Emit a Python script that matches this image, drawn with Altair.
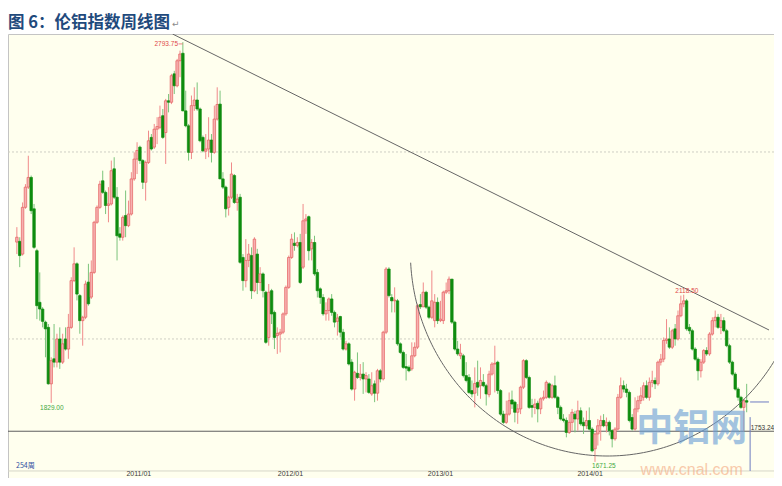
import numpy as np
import pandas as pd
import altair as alt

# ---------------- weekly OHLC of the LME aluminium index ----------------
opens = [
    2259, 2261, 2227, 2352, 2406, 2432, 2348, 2236, 2098, 2080,
    2045, 2031, 1880, 1947, 1938, 2000, 1938, 2000, 1973, 2031,
    2156, 2201, 2116, 2049, 2058, 2152, 2112, 2178, 2312, 2352,
    2423, 2392, 2357, 2361, 2455, 2379, 2281, 2272, 2330, 2303,
    2334, 2428, 2481, 2513, 2477, 2419, 2472, 2539, 2513, 2561,
    2566, 2597, 2552, 2637, 2633, 2709, 2677, 2744, 2764, 2610,
    2570, 2499, 2624, 2639, 2615, 2539, 2502, 2508, 2532, 2499,
    2588, 2628, 2428, 2406, 2352, 2379, 2437, 2365, 2379, 2218,
    2156, 2210, 2223, 2129, 2227, 2151, 2174, 2125, 2004, 2129,
    2071, 2009, 2013, 2018, 2067, 2138, 2218, 2256, 2250, 2258,
    2192, 2316, 2327, 2241, 2258, 2178, 2134, 2111, 2067, 2076,
    2107, 2071, 2047, 2060, 2018, 1973, 1987, 1938, 1866, 1908,
    1897, 1906, 1893, 1893, 1853, 1880, 1855, 1915, 1893, 2018,
    2187, 2111, 2102, 2102, 1987, 1964, 1926, 1924, 1920, 1955,
    1978, 2092, 2086, 2125, 2085, 2058, 2049, 2098, 2049, 2049,
    2125, 2129, 2160, 2045, 1973, 1955, 1955, 1902, 1897, 1862,
    1855, 1884, 1875, 1884, 1875, 1851, 1906, 1933, 1938, 1862,
    1799, 1777, 1799, 1837, 1831, 1804, 1813, 1871, 1942, 1897,
    1822, 1817, 1828, 1813, 1840, 1844, 1880, 1844, 1875, 1844,
    1817, 1786, 1782, 1750, 1777, 1799, 1786, 1808, 1777, 1768,
    1782, 1759, 1706, 1746, 1768, 1782, 1768, 1777, 1755, 1733,
    1759, 1844, 1875, 1866, 1857, 1790, 1759, 1813, 1835, 1844,
    1875, 1844, 1884, 1889, 1880, 1938, 1946, 1996, 2000, 1978,
    2027, 2000, 2062, 2094, 2102, 2031, 2022, 1973, 1946, 1915,
    1938, 1969, 1960, 2013, 2049, 2058, 2031, 2049, 2022, 1982,
    1938, 1906, 1866, 1844, 1817, 1835,
]
closes = [
    2272, 2223, 2352, 2406, 2432, 2343, 2245, 2089, 2080, 2047,
    2027, 1880, 1942, 1938, 2000, 1938, 1987, 1973, 2031, 2156,
    2201, 2120, 2049, 2058, 2147, 2094, 2178, 2312, 2352, 2414,
    2392, 2357, 2361, 2450, 2379, 2276, 2272, 2325, 2303, 2334,
    2428, 2481, 2504, 2477, 2419, 2472, 2530, 2508, 2561, 2568,
    2593, 2539, 2637, 2633, 2704, 2677, 2744, 2762, 2610, 2570,
    2499, 2624, 2639, 2615, 2530, 2503, 2508, 2532, 2499, 2588,
    2627, 2428, 2406, 2348, 2379, 2441, 2365, 2374, 2205, 2156,
    2210, 2227, 2129, 2267, 2151, 2174, 2129, 1991, 2125, 2067,
    2004, 2015, 2018, 2067, 2138, 2218, 2267, 2250, 2258, 2151,
    2316, 2321, 2236, 2258, 2174, 2129, 2111, 2067, 2076, 2107,
    2071, 2045, 2056, 2018, 1973, 1987, 1933, 1866, 1911, 1897,
    1906, 1893, 1902, 1857, 1875, 1855, 1915, 1893, 2018, 2187,
    2116, 2102, 2104, 1987, 1964, 1924, 1922, 1915, 1955, 1978,
    2089, 2086, 2125, 2085, 2058, 2102, 2098, 2049, 2053, 2125,
    2129, 2160, 2045, 1973, 1960, 1962, 1902, 1889, 1857, 1853,
    1881, 1871, 1889, 1875, 1853, 1906, 1933, 1935, 1862, 1799,
    1777, 1799, 1835, 1826, 1804, 1813, 1871, 1942, 1897, 1817,
    1817, 1826, 1813, 1840, 1844, 1884, 1844, 1875, 1844, 1817,
    1786, 1782, 1750, 1777, 1804, 1786, 1808, 1773, 1768, 1782,
    1759, 1701, 1746, 1768, 1782, 1768, 1777, 1755, 1733, 1759,
    1844, 1875, 1866, 1857, 1782, 1759, 1813, 1835, 1848, 1875,
    1844, 1884, 1889, 1880, 1938, 1946, 1996, 2000, 1978, 2022,
    2000, 2062, 2094, 2102, 2027, 2022, 1973, 1946, 1915, 1938,
    1969, 1960, 2013, 2049, 2058, 2031, 2049, 2022, 1982, 1938,
    1906, 1866, 1844, 1817, 1835, 1831,
]
highs = [
    2299, 2272, 2365, 2414, 2490, 2437, 2361, 2241, 2178, 2085,
    2049, 2040, 1951, 2040, 2014, 2031, 2014, 2031, 2067, 2165,
    2245, 2205, 2120, 2062, 2156, 2201, 2210, 2316, 2357, 2423,
    2450, 2397, 2406, 2477, 2486, 2406, 2299, 2330, 2397, 2370,
    2446, 2499, 2526, 2517, 2481, 2477, 2557, 2548, 2575, 2593,
    2624, 2615, 2642, 2655, 2709, 2717, 2749, 2771, 2793.75, 2664,
    2575, 2651, 2673, 2686, 2619, 2544, 2548, 2593, 2548, 2624,
    2673, 2664, 2446, 2410, 2383, 2472, 2441, 2388, 2388, 2227,
    2267, 2254, 2245, 2272, 2241, 2192, 2178, 2129, 2147, 2134,
    2076, 2031, 2027, 2071, 2143, 2223, 2281, 2285, 2272, 2281,
    2361, 2334, 2330, 2267, 2276, 2187, 2138, 2120, 2098, 2111,
    2120, 2076, 2067, 2062, 2027, 1995, 1991, 1946, 1915, 1964,
    1933, 1938, 1911, 1906, 1911, 1889, 1920, 1920, 2022, 2192,
    2192, 2120, 2138, 2107, 1991, 1969, 1960, 1929, 1991, 1991,
    2094, 2120, 2151, 2129, 2089, 2183, 2120, 2111, 2102, 2129,
    2151, 2167, 2160, 2049, 1995, 1987, 1960, 1938, 1906, 1889,
    1924, 1942, 1924, 1906, 1880, 1915, 1938, 1982, 1942, 1866,
    1808, 1835, 1857, 1862, 1835, 1826, 1875, 1946, 1946, 1902,
    1840, 1840, 1835, 1844, 1862, 1889, 1884, 1880, 1902, 1848,
    1822, 1799, 1790, 1799, 1813, 1808, 1835, 1817, 1790, 1808,
    1817, 1764, 1750, 1786, 1795, 1799, 1790, 1782, 1759, 1764,
    1853, 1897, 1889, 1880, 1862, 1799, 1844, 1848, 1871, 1884,
    1889, 1897, 1915, 1897, 1942, 1960, 2004, 2053, 2031, 2027,
    2040, 2076, 2116, 2118.5, 2107, 2040, 2027, 1978, 1951, 1946,
    1973, 1978, 2018, 2058, 2076, 2067, 2067, 2058, 2027, 1987,
    1942, 1911, 1871, 1848, 1840, 1880,
]
lows = [
    2227, 2192, 2223, 2348, 2401, 2334, 2241, 2053, 2049, 2031,
    1951, 1878, 1829, 1924, 1924, 1920, 1933, 1969, 1947, 2027,
    2152, 2103, 2014, 1982, 2053, 2089, 2107, 2174, 2308, 2348,
    2388, 2334, 2312, 2357, 2374, 2210, 2263, 2263, 2272, 2299,
    2330, 2423, 2441, 2468, 2401, 2370, 2468, 2504, 2508, 2521,
    2561, 2535, 2468, 2606, 2628, 2655, 2673, 2700, 2609, 2566,
    2477, 2481, 2610, 2610, 2526, 2499, 2481, 2486, 2472, 2495,
    2584, 2428, 2401, 2325, 2330, 2374, 2361, 2343, 2201, 2129,
    2138, 2192, 2107, 2125, 2120, 2129, 2111, 1987, 1982, 2040,
    1973, 1960, 1964, 2013, 2062, 2134, 2214, 2236, 2245, 2147,
    2187, 2281, 2210, 2210, 2169, 2111, 2094, 2062, 2049, 2049,
    2062, 2031, 2009, 2004, 1969, 1969, 1929, 1862, 1835, 1893,
    1889, 1853, 1857, 1853, 1848, 1831, 1835, 1884, 1889, 2013,
    2111, 2071, 2071, 1982, 1960, 1920, 1889, 1911, 1915, 1951,
    1973, 2080, 2085, 2080, 2053, 2053, 2031, 2040, 2045, 2040,
    2120, 2120, 2040, 1969, 1955, 1946, 1897, 1884, 1853, 1844,
    1817, 1848, 1840, 1871, 1822, 1844, 1902, 1857, 1853, 1795,
    1773, 1773, 1795, 1813, 1777, 1773, 1799, 1866, 1893, 1813,
    1790, 1799, 1777, 1799, 1835, 1840, 1840, 1840, 1840, 1799,
    1782, 1777, 1737, 1746, 1755, 1750, 1755, 1768, 1746, 1759,
    1755, 1697, 1671.25, 1715, 1728, 1764, 1750, 1742, 1710, 1728,
    1755, 1840, 1857, 1844, 1777, 1755, 1755, 1804, 1826, 1835,
    1840, 1835, 1871, 1866, 1875, 1929, 1938, 1987, 1973, 1973,
    1982, 1996, 2058, 2085, 2022, 2013, 1969, 1942, 1889, 1897,
    1933, 1955, 1955, 2009, 2031, 2027, 2013, 2018, 1978, 1933,
    1902, 1862, 1835, 1813, 1753.24, 1804,
]

# x-axis: week index where each year starts, and its label
year_ticks = [42.6, 95.6, 148.0, 200.3]
year_labels = ["2011/01", "2012/01", "2013/01", "2014/01"]

grid_prices = [2000, 2500]
last_price = 1753.24
panel_bottom_price = 1647.0   # bottom edge of the candle panel
date_row_price = 1638.0       # level of the date row below it

# annotations (week index, price)
high_labels = [
    {"w": 56.3, "p": 2789.0, "t": "2793.75", "a": "right"},
    {"w": 234.1, "p": 2128.0, "t": "2118.50", "a": "center"},
]
low_labels = [
    {"w": 12.2, "p": 1815.0, "t": "1829.00"},
    {"w": 205.1, "p": 1660.0, "t": "1671.25"},
]
trend_w = [54.4, 262.8]
trend_p = [2815.5, 2024.0]
arc_center = (206.4, 2232.5)        # week, price
arc_half_axes = (68.9, 545.5)       # weeks, price
arc_theta = (1.9, 4.66)

title_text = "图 6：伦铝指数周线图"
weeks_text = "254周"

# ---------------- build ----------------
W, H = 766, 444
xs = alt.Scale(domain=[-1.35, 262.8], nice=False, zero=False)
ys = alt.Scale(domain=[1628.2, 2815.5], nice=False, zero=False)

n = len(closes)
df = pd.DataFrame({"w": np.arange(n), "o": opens, "h": highs, "l": lows, "c": closes})
df["dir"] = np.where(df["c"] >= df["o"], "up", "down")
df["top"] = df[["o", "c"]].max(axis=1)
df["bot"] = df[["o", "c"]].min(axis=1)


def X(f):
    return alt.X(f, type="quantitative", scale=xs, axis=None)


def Y(f):
    return alt.Y(f, type="quantitative", scale=ys, axis=None)


grid = alt.Chart(pd.DataFrame({"p": grid_prices})).mark_rule(
    color="#CFCFC4", strokeDash=[2, 2], strokeWidth=1).encode(y=Y("p"))

lastline = alt.Chart(pd.DataFrame({"p": [last_price]})).mark_rule(
    color="#5E5E5E", strokeWidth=1).encode(y=Y("p"))

panel_line = alt.Chart(pd.DataFrame({"p": [panel_bottom_price]})).mark_rule(
    color="#D6D6C8", strokeWidth=1).encode(y=Y("p"))

dates = alt.Chart(pd.DataFrame({"w": year_ticks, "t": year_labels, "p": [date_row_price] * len(year_ticks)})).mark_text(
    font="Liberation Sans", fontSize=7, color="#3A3A3A", align="center", baseline="middle").encode(
    x=X("w"), y=Y("p"), text="t:N")

wicks = alt.Chart(df).mark_rule(strokeWidth=1).encode(
    x=X("w"),
    y=Y("l"), y2="h",
    color=alt.Color("dir:N", scale=alt.Scale(domain=["up", "down"], range=["#F08A8A", "#7CC47C"]), legend=None),
)
bodies = alt.Chart(df).mark_bar(size=2.5, strokeWidth=0.7).encode(
    x=X("w"), y=Y("bot"), y2="top",
    fill=alt.Fill("dir:N", scale=alt.Scale(domain=["up", "down"], range=["#F7B0B0", "#0F8C0F"]), legend=None),
    stroke=alt.Stroke("dir:N", scale=alt.Scale(domain=["up", "down"], range=["#E45E5E", "#0F8C0F"]), legend=None),
)

trend = alt.Chart(pd.DataFrame({"w": trend_w, "p": trend_p})).mark_line(
    color="#666666", strokeWidth=1, clip=True).encode(x=X("w"), y=Y("p"))

th = np.linspace(arc_theta[0], arc_theta[1], 160)
arc_df = pd.DataFrame({
    "k": np.arange(len(th)),
    "w": arc_center[0] + arc_half_axes[0] * np.sin(th),
    "p": arc_center[1] + arc_half_axes[1] * np.cos(th),
})
arc = alt.Chart(arc_df).mark_line(color="#666666", strokeWidth=1, clip=True).encode(
    x=X("w"), y=Y("p"), order="k:Q")

hl = pd.DataFrame(high_labels)
hi_lab_r = alt.Chart(hl[hl.a == "right"]).mark_text(
    font="Liberation Sans", fontSize=6.5, color="#E04848", baseline="middle", align="right").encode(
    x=X("w"), y=Y("p"), text="t:N")
hi_lab_c = alt.Chart(hl[hl.a == "center"]).mark_text(
    font="Liberation Sans", fontSize=6.5, color="#E04848", baseline="middle", align="center").encode(
    x=X("w"), y=Y("p"), text="t:N")
lo_lab = alt.Chart(pd.DataFrame(low_labels)).mark_text(
    font="Liberation Sans", fontSize=6.5, color="#3EA83E", baseline="middle", align="center").encode(
    x=X("w"), y=Y("p"), text="t:N")
pointer = alt.Chart(pd.DataFrame({"w1": [56.5], "w2": [58.0], "p": [2789.0]})).mark_rule(
    color="#E86A6A", strokeWidth=0.8).encode(x=X("w1"), x2="w2", y=Y("p"))

last_lab = alt.Chart(pd.DataFrame({"w": [256.4], "p": [1762.0], "t": [f"{last_price:.2f}"]})).mark_text(
    font="Liberation Sans", fontSize=6.5, color="#333333", align="left", baseline="middle").encode(
    x=X("w"), y=Y("p"), text="t:N")

cursor_v = alt.Chart(pd.DataFrame({"w": [256.2], "p1": [1647.0], "p2": [1791.0]})).mark_rule(
    color="#6E7CC2", strokeWidth=1).encode(x=X("w"), y=Y("p1"), y2="p2")
cursor_h = alt.Chart(pd.DataFrame({"w1": [256.2], "w2": [262.8], "p": [1831.5]})).mark_rule(
    color="#6E7CC2", strokeWidth=1).encode(x=X("w1"), x2="w2", y=Y("p"))

weeks_lab = alt.Chart(pd.DataFrame({"w": [-0.3], "p": [1660.0], "t": [weeks_text]})).mark_text(
    font="Noto Sans CJK SC", fontSize=7, color="#2F4FA0", align="left", baseline="middle").encode(
    x=X("w"), y=Y("p"), text="t:N")

wm1 = alt.Chart(pd.DataFrame({"w": [235.8], "p": [1757.0], "t": ["中铝网"]})).mark_text(
    font="Noto Sans CJK SC", fontWeight="bold", fontSize=37, color="#6C9FD6", opacity=0.62,
    align="center", baseline="middle").encode(x=X("w"), y=Y("p"), text="t:N")
wm2 = alt.Chart(pd.DataFrame({"w": [235.8], "p": [1649.0], "t": ["www.cnal.com"]})).mark_text(
    font="Liberation Sans", fontSize=16, color="#F5A880", opacity=0.6,
    align="center", baseline="middle").encode(x=X("w"), y=Y("p"), text="t:N")

title = alt.Chart(pd.DataFrame({"t": [title_text]})).mark_text(
    font="Noto Sans CJK SC", fontWeight="bold", fontSize=16.5, color="#1F4A7C",
    align="left", baseline="alphabetic").encode(x=alt.value(0), y=alt.value(-6), text="t:N")
ret = alt.Chart(pd.DataFrame({"t": ["↵"]})).mark_text(
    font="DejaVu Sans", fontSize=9, color="#8A8A8A", align="left", baseline="alphabetic").encode(
    x=alt.value(164), y=alt.value(-7), text="t:N")

chart = alt.layer(
    grid, lastline, panel_line, dates, wicks, bodies, trend, arc, pointer, hi_lab_r, hi_lab_c, lo_lab,
    last_lab, cursor_v, cursor_h, weeks_lab, wm1, wm2, title, ret,
).properties(
    width=W, height=H,
    autosize=alt.AutoSizeParams(type="none"),
    padding={"left": 0, "top": 26, "right": 0, "bottom": 0},
).configure_view(fill="#FFFFEE", stroke="#C4C4C4", strokeWidth=1)

chart.save("out.html", embed_options={"renderer": "svg", "actions": False})
